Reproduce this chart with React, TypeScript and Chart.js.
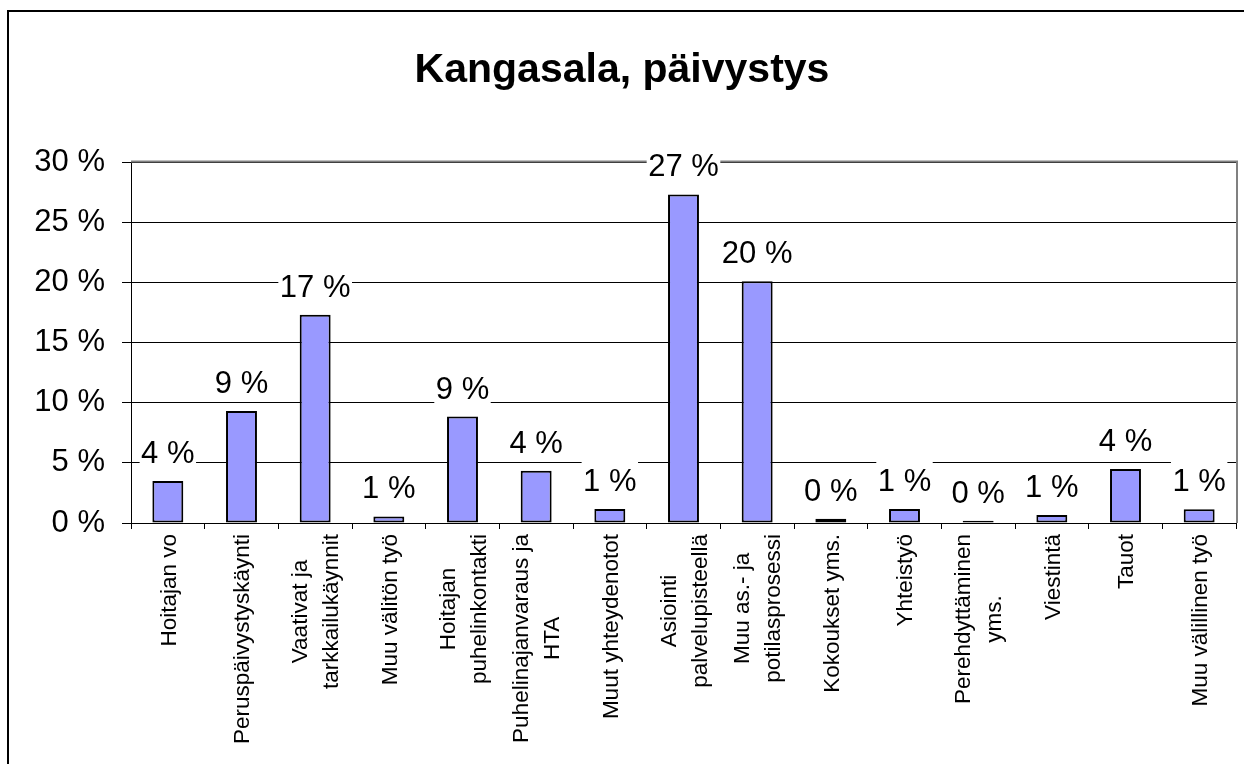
import React, { useEffect, useRef } from 'react';
import { Chart, registerables } from 'chart.js';

Chart.register(...registerables);

const TITLE = 'Kangasala, päivystys';

const categories: (string | string[])[] = [
  'Hoitajan vo',
  'Peruspäivystyskäynti',
  ['Vaativat ja', 'tarkkailukäynnit'],
  'Muu välitön työ',
  ['Hoitajan', 'puhelinkontakti'],
  ['Puhelinajanvaraus ja', 'HTA'],
  'Muut yhteydenotot',
  ['Asiointi', 'palvelupisteellä'],
  ['Muu as.- ja', 'potilasprosessi'],
  'Kokoukset yms.',
  'Yhteistyö',
  ['Perehdyttäminen', 'yms.'],
  'Viestintä',
  'Tauot',
  'Muu välillinen työ',
];

const shares = [3.5, 9.3, 17.3, 0.55, 8.85, 4.35, 1.16, 27.3, 20.1, 0.36, 1.16, 0.18, 0.66, 4.49, 1.15];

const Y_MIN = 0;
const Y_MAX = 30;
const Y_STEP = 5;

const FONT = '"Liberation Sans", Arial, Helvetica, sans-serif';

export default function App() {
  const ref = useRef<HTMLCanvasElement>(null);

  useEffect(() => {
    const canvas = ref.current;
    if (!canvas) return;

    const decor = {
      id: 'decor',
      beforeDraw(chart: any) {
        const ctx = chart.ctx;
        ctx.save();
        ctx.fillStyle = '#ffffff';
        ctx.fillRect(0, 0, chart.width, chart.height);
        ctx.fillStyle = '#000000';
        ctx.fillRect(7, 10, chart.width - 7, 2);
        ctx.fillRect(7, 10, 2, chart.height - 10);
        ctx.font = `bold 41px ${FONT}`;
        ctx.textAlign = 'center';
        ctx.textBaseline = 'alphabetic';
        ctx.fillText(TITLE, 622, 82);
        ctx.restore();
      },
      afterDatasetsDraw(chart: any) {
        const ctx = chart.ctx;
        const area = chart.chartArea;
        ctx.save();
        ctx.strokeStyle = '#808080';
        ctx.lineWidth = 2;
        ctx.beginPath();
        ctx.moveTo(area.left, area.top - 0.5);
        ctx.lineTo(area.right + 1, area.top - 0.5);
        ctx.lineTo(area.right + 1, area.bottom);
        ctx.stroke();

        const meta = chart.getDatasetMeta(0);
        ctx.font = `31px ${FONT}`;
        ctx.textAlign = 'center';
        ctx.textBaseline = 'alphabetic';
        meta.data.forEach((el: any, i: number) => {
          const txt = `${Math.round(shares[i])} %`;
          const w = ctx.measureText(txt).width;
          const base = el.y - 18;
          ctx.fillStyle = '#ffffff';
          ctx.fillRect(el.x - w / 2 - 1.5, base - 34, w + 3, 41);
          ctx.fillStyle = '#000000';
          ctx.fillText(txt, el.x, base);
        });

        const fs = 22.5;
        const LH = 31;
        ctx.font = `${fs}px ${FONT}`;
        ctx.fillStyle = '#000000';
        const xs = chart.scales.x;
        categories.forEach((lbl, i) => {
          const lines = Array.isArray(lbl) ? lbl : [lbl];
          const maxW = Math.max(...lines.map((l) => ctx.measureText(l).width));
          const x = xs.getPixelForValue(i);
          ctx.save();
          ctx.translate(x, area.bottom + 11);
          ctx.rotate(-Math.PI / 2);
          ctx.textAlign = 'center';
          ctx.textBaseline = 'alphabetic';
          const n = lines.length;
          lines.forEach((line, j) => {
            const y = -n * LH / 2 + j * LH + (LH - 1.117 * fs) / 2 + 0.905 * fs;
            ctx.fillText(line, -maxW / 2, y);
          });
          ctx.restore();
        });
        ctx.restore();
      },
    };

    const chart = new Chart(canvas, {
      type: 'bar',
      data: {
        labels: categories as any,
        datasets: [
          {
            data: shares,
            backgroundColor: '#9999ff',
            borderColor: '#000000',
            borderWidth: 2,
            borderSkipped: false,
            barPercentage: 0.42,
            categoryPercentage: 1,
          },
        ],
      },
      options: {
        responsive: false,
        animation: false,
        devicePixelRatio: 1,
        layout: { padding: { top: 162, right: 8, left: 0, bottom: 0 } },
        plugins: {
          legend: { display: false },
          title: { display: false },
          tooltip: { enabled: false },
        },
        scales: {
          x: {
            grid: {
              display: true,
              drawOnChartArea: false,
              drawTicks: true,
              tickLength: 6,
              color: '#000000',
              offset: true,
            },
            border: { display: true, color: '#000000', width: 1 },
            ticks: { display: false },
            afterFit: (s: any) => {
              s.height = 241;
            },
          },
          y: {
            min: Y_MIN,
            max: Y_MAX,
            ticks: {
              stepSize: Y_STEP,
              callback: (v: any) => `${v} %`,
              font: { family: FONT, size: 31 },
              color: '#000000',
              padding: 17,
            },
            grid: { color: '#000000', tickLength: 9, lineWidth: 1 },
            border: { display: true, color: '#000000', width: 1 },
            afterFit: (s: any) => {
              s.width = 131;
            },
          },
        },
      },
      plugins: [decor],
    });

    return () => chart.destroy();
  }, []);

  return (
    <canvas
      ref={ref}
      width={1244}
      height={764}
      style={{ position: 'absolute', left: 0, top: 0, display: 'block' }}
    />
  );
}
